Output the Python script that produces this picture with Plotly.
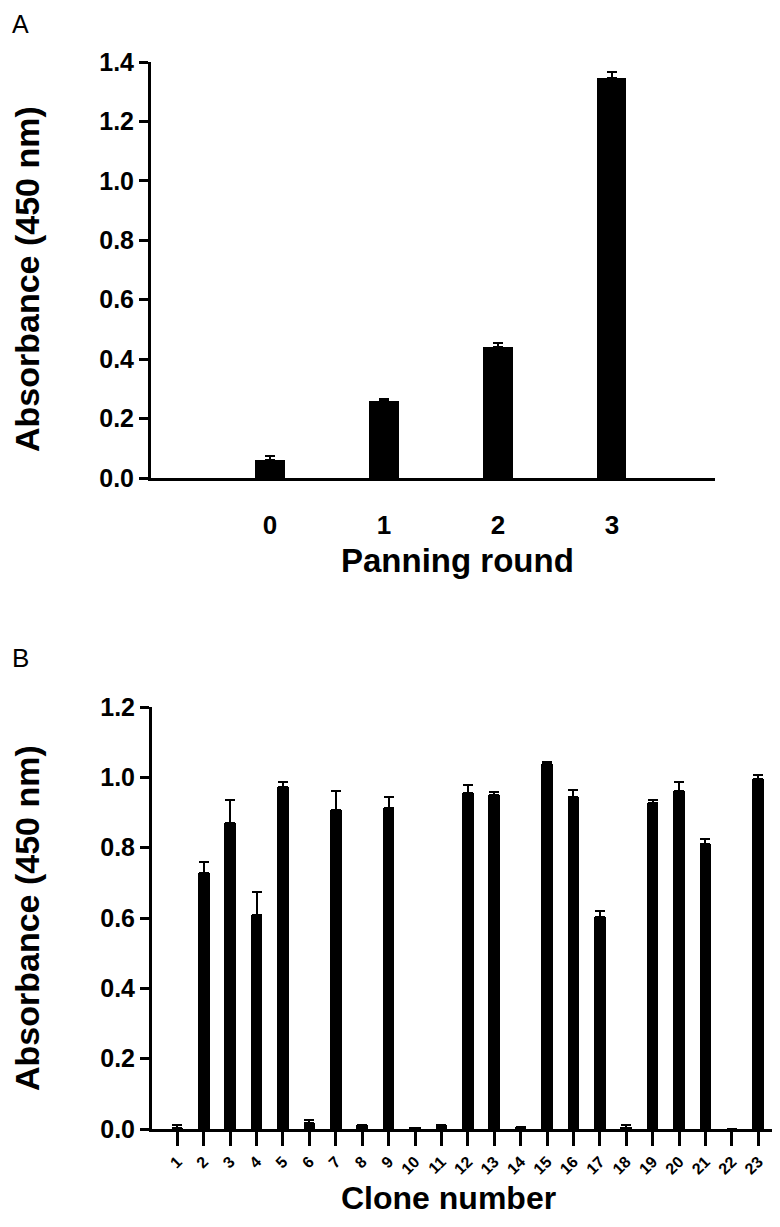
import plotly.graph_objects as go

# --- data ---
rounds = [0, 1, 2, 3]
round_mean = [0.06, 0.26, 0.44, 1.345]
round_err = [0.015, 0.007, 0.016, 0.02]

clones = list(range(1, 24))
clone_mean = [0.002, 0.728, 0.870, 0.608, 0.973, 0.017, 0.906, 0.010, 0.914, 0.003,
              0.010, 0.955, 0.949, 0.005, 1.037, 0.944, 0.603, 0.004, 0.928, 0.962,
              0.810, 0.0, 0.995]
clone_err = [0.010, 0.031, 0.066, 0.067, 0.014, 0.009, 0.056, 0.002, 0.030, 0.0,
             0.002, 0.024, 0.009, 0.0, 0.006, 0.019, 0.018, 0.006, 0.007, 0.026,
             0.014, 0.0, 0.011]

W, H = 780, 1227
OFF = 8  # page body margin of the browser
FONT = "Liberation Sans, Arial, sans-serif"

fig = go.Figure()

fig.add_trace(go.Bar(
    x=rounds, y=round_mean, width=0.255,
    marker=dict(color="black", line=dict(width=0)),
    error_y=dict(type="data", symmetric=False, array=round_err,
                 arrayminus=[0] * len(round_err),
                 color="black", thickness=2, width=5),
    xaxis="x", yaxis="y", showlegend=False, hoverinfo="skip"))

fig.add_trace(go.Bar(
    x=clones, y=clone_mean, width=0.44,
    marker=dict(color="black", line=dict(width=0)),
    error_y=dict(type="data", symmetric=False, array=clone_err,
                 arrayminus=[0] * len(clone_err),
                 color="black", thickness=2, width=5),
    xaxis="x2", yaxis="y2", showlegend=False, hoverinfo="skip"))

# screen pixel -> paper fraction
def px_x(p):
    return (p - OFF) / W

def px_y(p):
    return 1 - (p - OFF) / H

yax = dict(showline=True, linewidth=3, linecolor="black", ticks="outside",
           ticklen=9, tickwidth=3, tickcolor="black", showgrid=False,
           zeroline=False, tickformat=".1f", dtick=0.2, automargin=False,
           tickfont=dict(family=FONT, size=25, color="black", weight="bold"))

fig.update_layout(
    template="none",
    width=W, height=H,
    margin=dict(l=0, r=0, t=0, b=0, pad=0),
    paper_bgcolor="white", plot_bgcolor="white",
    bargap=0,
    xaxis=dict(domain=[px_x(151), px_x(715)], range=[-1.044, 3.904],
               anchor="y", showline=True, linewidth=3, linecolor="black",
               tickvals=rounds, ticktext=[str(r) for r in rounds],
               ticks="", ticklabelstandoff=22, showgrid=False, zeroline=False,
               automargin=False,
               tickfont=dict(family=FONT, size=26, color="black", weight="bold")),
    yaxis=dict(domain=[px_y(478), px_y(62)], range=[0, 1.4], anchor="x", **yax),
    xaxis2=dict(domain=[px_x(152), px_x(772)], range=[0.04, 23.52],
                anchor="y2", showline=True, linewidth=3, linecolor="black",
                tickvals=clones, ticktext=[str(c) for c in clones],
                ticks="outside", ticklen=14, tickwidth=3, tickcolor="black",
                tickangle=-45, showgrid=False, zeroline=False, automargin=False,
                tickfont=dict(family=FONT, size=16, color="black", weight="bold")),
    yaxis2=dict(domain=[px_y(1129), px_y(707)], range=[0, 1.2], anchor="x2", **yax),
)

def note(text, x, y, size, bold=True, angle=0):
    fig.add_annotation(text=text, x=px_x(x), y=px_y(y), xref="paper", yref="paper",
                       showarrow=False, textangle=angle, xanchor="center", yanchor="middle",
                       font=dict(family=FONT, size=size, color="black",
                                 weight="bold" if bold else "normal"))

note("A", 20, 24, 25, bold=False)
note("B", 20, 658, 26, bold=False)
note("Absorbance (450 nm)", 27, 279, 34, angle=-90)
note("Absorbance (450 nm)", 27, 918, 34, angle=-90)
note("Panning round", 458, 560, 33)
note("Clone number", 448, 1198, 32)

fig.write_html("out.html")
